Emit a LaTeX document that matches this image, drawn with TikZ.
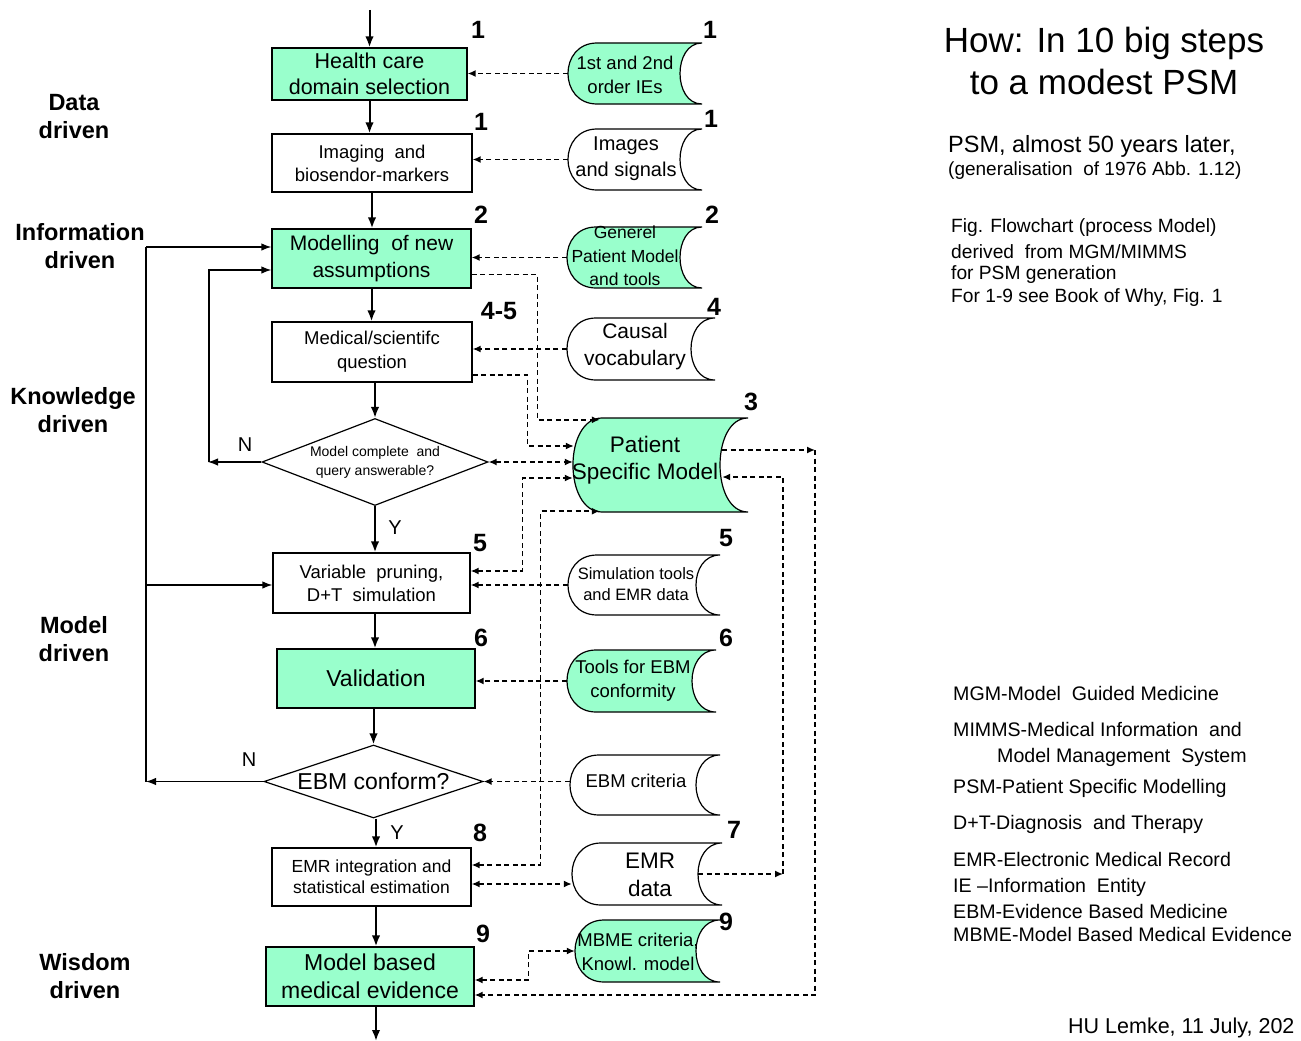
\documentclass[tikz,border=0pt]{standalone}
\usepackage{fontspec}
\setmainfont{Liberation Sans}
\usetikzlibrary{arrows.meta,calc,shapes.geometric}
\definecolor{mint}{RGB}{153,255,204}
\newcommand{\fs}[2]{\fontsize{#1}{#2}\selectfont}
\newcommand{\stdata}[7]{%
 \pgfmathsetmacro\sdA{#2+29}%
 \pgfmathsetmacro\sdC{#2-9.7}%
 \pgfmathsetmacro\sdD{#4-1.333*#7}%
 \pgfmathsetmacro\sdX{(#2+#4)/2}%
 \pgfmathsetmacro\sdY{(#3+#5)/2}%
 \pgfmathsetmacro\sdW{#4-#2}%
 \pgfmathsetmacro\sdH{#5-#3}%
 \draw[line width=1.2pt, fill=#6] (\sdA,#3) -- (#4,#3) .. controls (\sdD,#3) and (\sdD,#5) .. (#4,#5) -- (\sdA,#5) .. controls (\sdC,#5) and (\sdC,#3) .. (\sdA,#3) -- cycle;
 \node[inner sep=0pt, minimum width=\sdW pt, minimum height=\sdH pt] (#1) at (\sdX,\sdY) {};
}
\begin{document}
\begin{tikzpicture}[x=1pt,y=-1pt,
 box/.style={draw, line width=1.3pt, inner sep=0pt, align=center},
 gbox/.style={box, fill=mint},
 dia/.style={draw, diamond, line width=1.2pt, inner sep=0pt},
 flow/.style={line width=2pt, -{Latex[length=11pt,width=8.5pt]}},
 fb/.style={line width=1.3pt, -{Latex[length=10pt,width=7.5pt]}},
 dcon/.style={line width=1.5pt, dash pattern=on 5pt off 3.5pt, -{Latex[length=8pt,width=7pt]}},
 dboth/.style={dcon, {Latex[length=8pt,width=7pt]}-{Latex[length=8pt,width=7pt]}},
 num/.style={font=\bfseries\fs{25}{25}, inner sep=0pt},
 lbl/.style={font=\bfseries\fs{23.5}{28}, align=center, inner sep=0pt},
 yn/.style={font=\fs{20}{20}, inner sep=0pt},
 stxt/.style={inner sep=0pt, align=center},
 rtxt/.style={inner sep=0pt, anchor=west},
]
\fill[white] (0,0) rectangle (1301,1041);
\useasboundingbox (0,0) rectangle (1301,1041);

% main flow boxes
\node[gbox, minimum width=195pt, minimum height=52pt, font=\fs{21.5}{26}] (b1) at (369.5,74) {Health care\\domain selection};
\node[box, minimum width=200pt, minimum height=58pt, font=\fs{18.5}{23}] (b2) at (372,163) {Imaging \ and\\biosendor-markers};
\node[gbox, minimum width=199pt, minimum height=59pt, font=\fs{21}{27}] (b3) at (371.5,258.5) {Modelling \ of new\\assumptions};
\node[box, minimum width=200pt, minimum height=60pt, font=\fs{18.5}{24}] (b4) at (372,352) {Medical/scientifc\\question};
\node[dia, minimum width=226pt, minimum height=87pt] (d1) at (375,462) {};
\node[stxt, font=\fs{14}{19}] (d1t) at (375,462) {Model complete \ and\\query answerable?};
\node[box, minimum width=197pt, minimum height=60pt, font=\fs{18.5}{23}] (b6) at (371.5,583) {Variable \ pruning,\\D+T \ simulation};
\node[gbox, minimum width=198pt, minimum height=59pt, font=\fs{23}{28}] (b7) at (376,678.5) {Validation};
\node[dia, minimum width=219pt, minimum height=73pt] (d2) at (373.5,781.5) {};
\node[stxt, font=\fs{23}{28}] (d2t) at (373.5,781.5) {EBM conform?};
\node[box, minimum width=199pt, minimum height=58pt, font=\fs{17.5}{21}] (b9) at (371.5,877) {EMR integration and\\statistical estimation};
\node[gbox, minimum width=208pt, minimum height=59pt, font=\fs{23}{28}] (b10) at (370,976.5) {Model based\\medical evidence};

% stored data shapes
\stdata{s1}{568}{43}{702}{104}{mint}{22}
\stdata{s2}{568}{129}{702}{190}{white}{22}
\stdata{s3}{567}{227}{702}{288}{mint}{22}
\stdata{s4}{567}{318}{715}{380}{white}{24}
\stdata{psm}{573}{418}{748}{512}{mint}{28}
\stdata{s5}{568}{555}{720}{615}{white}{24}
\stdata{s6}{567}{650}{716}{712}{mint}{24}
\stdata{s7}{570}{755}{720}{815}{white}{24}
\stdata{s8}{572}{843}{722}{905}{white}{24}
\stdata{s9}{575}{920}{720}{982}{mint}{24}

\node[stxt, font=\fs{18.5}{24}] (s1t) at (625,75) {1st and 2nd\\order IEs};
\node[stxt, font=\fs{20}{26}] (s2t) at (626,159) {Images\\and signals};
\node[stxt, font=\fs{17.5}{23.5}] (s3t) at (625,256) {Generel\\Patient Model\\and tools};
\node[stxt, font=\fs{21}{27}] (s4t) at (635,347) {Causal\\vocabulary};
\node[stxt, font=\fs{22.5}{27}] (psmt) at (645,460) {Patient\\Specific Model};
\node[stxt, font=\fs{16.5}{21}] (s5t) at (636,584) {Simulation tools\\and EMR data};
\node[stxt, font=\fs{18.5}{24}] (s6t) at (633,681) {Tools for EBM\\conformity};
\node[stxt, font=\fs{18.5}{24}] (s7t) at (636,781) {EBM criteria};
\node[stxt, font=\fs{22.5}{28}] (s8t) at (650,875) {EMR\\data};
\node[stxt, font=\fs{18.5}{24}] (s9t) at (638,952) {MBME criteria,\\Knowl. model};

% step numbers
\node[num] (n1a) at (478,30) {1};
\node[num] (n1b) at (710,30) {1};
\node[num] (n1c) at (481,122) {1};
\node[num] (n1d) at (711,119) {1};
\node[num] (n2a) at (481,215) {2};
\node[num] (n2b) at (712,215) {2};
\node[num] (n45) at (499,311) {4-5};
\node[num] (n4) at (714,307) {4};
\node[num] (n3) at (751,402) {3};
\node[num] (n5a) at (480,543) {5};
\node[num] (n5b) at (726,538) {5};
\node[num] (n6a) at (481,638) {6};
\node[num] (n6b) at (726,638) {6};
\node[num] (n8) at (480,833) {8};
\node[num] (n7) at (734,830) {7};
\node[num] (n9a) at (483,934) {9};
\node[num] (n9b) at (726,922) {9};

% left labels
\node[lbl] (l1) at (74,117) {Data\\driven};
\node[lbl] (l2) at (80,246) {Information\\driven};
\node[lbl] (l3) at (73,410) {Knowledge\\driven};
\node[lbl] (l4) at (74,639) {Model\\driven};
\node[lbl] (l5) at (85,976) {Wisdom\\driven};

% Y/N
\node[yn] (nA) at (245,445) {N};
\node[yn] (nB) at (249,760) {N};
\node[yn] (yA) at (395,528) {Y};
\node[yn] (yB) at (397,833) {Y};

% main flow arrows
\coordinate (top) at (369.5,10);
\coordinate (bot) at (376,1041);
\draw[flow] (top) -- (top |- b1.north);
\draw[flow] (b1.south) -- (b1.south |- b2.north);
\draw[flow] (b2.south) -- (b2.south |- b3.north);
\draw[flow] (b3.south) -- (b3.south |- b4.north);
\draw[flow] (d1.north |- b4.south) -- (d1.north);
\draw[flow] (d1.south) -- (d1.south |- b6.north);
\draw[flow] (d1.south |- b6.south) -- (d1.south |- b7.north);
\draw[flow] (d2.north |- b7.south) -- (d2.north);
\draw[flow] (bot |- d2.south) -- (bot |- b9.north);
\draw[flow] (bot |- b9.south) -- (bot |- b10.north);
\draw[flow] (bot |- b10.south) -- (bot);

% feedback
\coordinate (fbT) at (146,247);
\coordinate (fbB) at (146,781.5);
\coordinate (fbM) at (146,585);
\draw[fb] (d2.west) -- (fbB);
\draw[line width=1.3pt] (fbB) -- (fbT);
\draw[fb] (fbT) -- (fbT -| b3.west);
\draw[fb] (fbM) -- (fbM -| b6.west);
\coordinate (fb2) at (208,462);
\coordinate (fb2t) at (209,270);
\draw[fb] (d1.west) -- (fb2);
\draw[fb] (fb2t |- fb2) -- (fb2t) -- (fb2t -| b3.west);

% dashed connectors
\draw[dcon] (s1.west) -- (s1.west -| b1.east);
\draw[dcon] (s2.west) -- (s2.west -| b2.east);
\draw[dcon] (s3.west) -- (s3.west -| b3.east);
\draw[dcon] (s4.west) -- (s4.west -| b4.east);
\coordinate (b3r) at ($(b3.east)+(0,16)$);
\coordinate (psmA) at ($(psm.north west)+(27,2)$);
\draw[dcon] (b3r) -- ++(66,0) |- (psmA);
\coordinate (b4r) at ($(b4.east)+(0,23)$);
\coordinate (psmB) at ($(psm.west)+(1,-19)$);
\draw[dcon] (b4r) -- ++(55,0) |- (psmB);
\draw[dboth] (d1.east) -- (d1.east -| psm.west);
\coordinate (b6r) at ($(b6.east)+(0,-12)$);
\coordinate (psmC) at ($(psm.west)+(0,13)$);
\draw[dboth] (b6r) -- ++(52,0) |- (psmC);
\draw[dcon] (s5.west) -- (s5.west -| b6.east);
\coordinate (b9r) at ($(b9.east)+(0,-12)$);
\coordinate (psmD) at ($(psm.south west)+(27,-1)$);
\draw[dboth] (b9r) -- ++(69,0) |- (psmD);
\draw[dcon] (s6.west) -- (s6.west -| b7.east);
\draw[dcon] (s7.west |- d2.east) -- (d2.east);
\coordinate (b9s) at ($(b9.east)+(0,7)$);
\draw[dboth] (b9s) -- (b9s -| s8.west);
\coordinate (s8in) at ($(s8.east)+(-24,0)$);
\coordinate (c783) at (783,874);
\draw[dcon] (s8in) -- (c783);
\coordinate (psmin) at ($(psm.east)+(-26,12)$);
\draw[dcon] (c783) -- (c783 |- psmin) -- (psmin);
\coordinate (psmout) at ($(psm.east)+(-26,-15)$);
\coordinate (c815) at (815,450);
\coordinate (c815b) at (815,995);
\draw[dcon] (psmout) -- (c815);
\draw[dcon] (c815) -- (c815b) -- (c815b -| b10.east);
\coordinate (b10r) at ($(b10.east)+(0,3.5)$);
\draw[dboth] (b10r) -- ++(54,0) |- (s9.west);

% right texts
\node[stxt, font=\fs{35}{42}] (title) at (1104,61) {How: In 10 big steps\\to a modest PSM};
\node[rtxt, font=\fs{23.5}{23}] (r1) at (948,146) {PSM, almost 50 years later,};
\node[rtxt, font=\fs{19}{20}] (r2) at (948,171) {(generalisation \ of 1976 Abb. 1.12)};
\node[rtxt, font=\fs{19.2}{20}] (r3) at (951,228) {Fig. Flowchart (process Model)};
\node[rtxt, font=\fs{19.2}{20}] (r4) at (951,252) {derived \ from MGM/MIMMS};
\node[rtxt, font=\fs{19.2}{20}] (r5) at (951,275) {for PSM generation};
\node[rtxt, font=\fs{19.2}{20}] (r6) at (951,298) {For 1-9 see Book of Why, Fig. 1};

\node[rtxt, font=\fs{19.6}{20}] (g1) at (953,693) {MGM-Model \ Guided Medicine};
\node[rtxt, font=\fs{19.6}{20}] (g2) at (953,729) {MIMMS-Medical Information \ and};
\node[rtxt, font=\fs{19.6}{20}] (g3) at (997,757) {Model Management \ System};
\node[rtxt, font=\fs{19.6}{20}] (g4) at (953,788) {PSM-Patient Specific Modelling};
\node[rtxt, font=\fs{19.6}{20}] (g5) at (953,824) {D+T-Diagnosis \ and Therapy};
\node[rtxt, font=\fs{19.6}{20}] (g6) at (953,859) {EMR-Electronic Medical Record};
\node[rtxt, font=\fs{19.6}{20}] (g7) at (953,887) {IE --Information \ Entity};
\node[rtxt, font=\fs{19.6}{20}] (g8) at (953,911) {EBM-Evidence Based Medicine};
\node[rtxt, font=\fs{19.6}{20}] (g9) at (953,934) {MBME-Model Based Medical Evidence};
\node[rtxt, font=\fs{21.5}{22}] (hu) at (1068,1028) {HU Lemke, 11 July, 202};
\end{tikzpicture}
\end{document}
